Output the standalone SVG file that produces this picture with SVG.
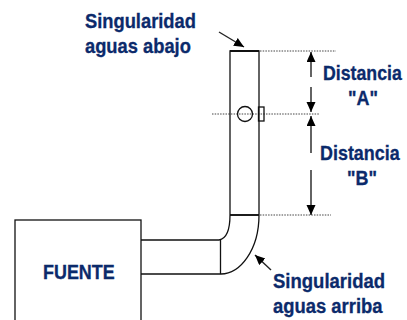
<svg xmlns="http://www.w3.org/2000/svg" width="407" height="320" viewBox="0 0 407 320">
<style>
.o{fill:none;stroke:#111;stroke-width:1.3}
.d{fill:none;stroke:#444;stroke-width:1;stroke-dasharray:1.5 1.2}
.a{fill:none;stroke:#222;stroke-width:1.4;marker-end:url(#h)}
text{font-family:"Liberation Sans",Arial,sans-serif;font-weight:bold;font-size:19.500px;fill:#0b2a6b;stroke:#0b2a6b;stroke-width:.3}
</style>
<defs><marker id="h" markerUnits="userSpaceOnUse" markerWidth="11" markerHeight="10" refX="10" refY="4.500" orient="auto"><path d="M0 0L10 4.500L0 9Z" fill="#000"/></marker></defs>
<rect width="407" height="320" fill="#fff"/>
<g id="connectors">
<path class="d" d="M260 51H336M212 114H319M260 215H331"/>
<path class="a" d="M219 32L244 47"/>
<path class="a" d="M311 77V52"/>
<path class="a" d="M311 87V112"/>
<path class="a" d="M311 153V116"/>
<path class="a" d="M311 170V215"/>
<path class="a" d="M271 270L255 255"/>
</g>
<g id="fuente"><rect class="o" x="15" y="220" width="126" height="109"/><text transform="translate(43 279) scale(.92 1)">FUENTE</text></g>
<g id="tuberia">
<path class="o" d="M141 240H219Q230 238 230 215V51H259V215M230 215H259C259 250 240 274 221 274H141M220.500 240V274"/>
<path d="M230 51H259" stroke="#111" stroke-width="2"/>
<path d="M230 215H259" stroke="#111" stroke-width="1.6"/>
</g>
<g id="sensor"><circle class="o" cx="245" cy="114" r="7.500"/><rect class="o" x="258.500" y="107" width="5.500" height="14"/></g>
<g id="labels">
<text transform="translate(85 28) scale(.94 1)">Singularidad</text>
<text transform="translate(85 53) scale(.94 1)">aguas abajo</text>
<text transform="translate(323 80) scale(.91 1)">Distancia</text>
<text transform="translate(348 105) scale(.92 1)">"A"</text>
<text transform="translate(320 160) scale(.92 1)">Distancia</text>
<text transform="translate(347 185) scale(.92 1)">"B"</text>
<text transform="translate(273 288) scale(.95 1)">Singularidad</text>
<text transform="translate(273 313) scale(.945 1)">aguas arriba</text>
</g>
</svg>
